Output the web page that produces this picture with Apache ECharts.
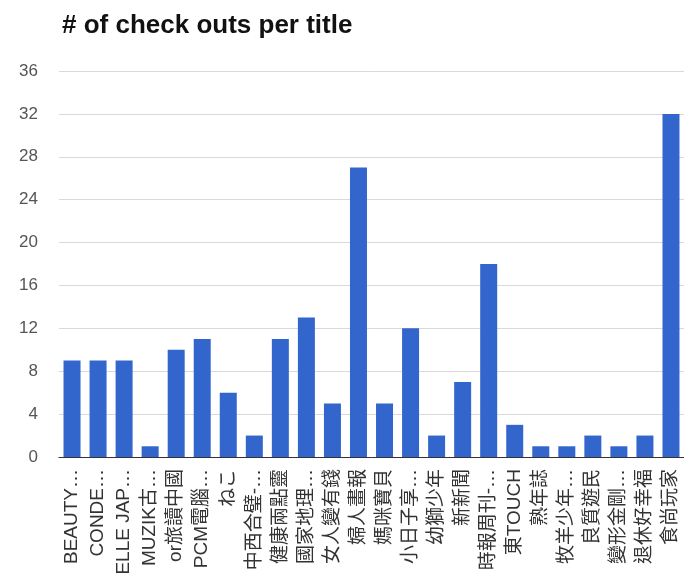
<!DOCTYPE html>
<html>
<head>
<meta charset="utf-8">
<script src="https://cdn.jsdelivr.net/npm/echarts@6/dist/echarts.min.js"></script>
<style>html,body{margin:0;padding:0;background:#fff;}#c{width:684px;height:578px;}</style>
</head>
<body>
<div id="c"></div>
<script>
const categories = ["BEAUTY…","CONDE…","ELLE JAP…","MUZIK古…","or旅讀中國","PCM電腦…","ねこ","中西合璧-…","健康兩點靈","國家地理…","女人變有錢","婦人畫報","媽咪寶貝","小日子享…","幼獅少年","新新聞","時報周刊-…","東TOUCH","熟年誌","牧羊少年…","良質遊民","變形金剛…","退休好幸福","食尚玩家"];
const checkouts = [9,9,9,1,10,11,6,2,11,13,5,27,5,12,2,7,18,3,1,1,2,1,2,32];
const yTicks = {min:0, max:36, interval:4};
const chart = echarts.init(document.getElementById('c'));
const font = '"Liberation Sans", Arial, "Noto Sans CJK TC", sans-serif';
chart.setOption({
  animation:false,
  title:{text:'# of check outs per title', left:57, top:8, textStyle:{fontFamily:font, fontWeight:'bold', fontSize:26, color:'#111'}},
  grid:{left:59, right:-4, top:71, bottom:121, containLabel:false},
  xAxis:{type:'category', data:categories,
    axisLine:{lineStyle:{color:'#333', width:1}}, axisTick:{show:false},
    axisLabel:{rotate:90, interval:0, margin:12, fontFamily:font, fontSize:19, color:'#333'}},
  yAxis:{type:'value', min:yTicks.min, max:yTicks.max, interval:yTicks.interval,
    axisLine:{show:false}, axisTick:{show:false},
    splitLine:{lineStyle:{color:'#d9d9d9'}},
    axisLabel:{margin:21, fontFamily:font, fontSize:17, color:'#555'}},
  series:[{type:'bar', data:checkouts, barWidth:17, itemStyle:{color:'#3366cc'}}]
});
</script>
</body>
</html>
